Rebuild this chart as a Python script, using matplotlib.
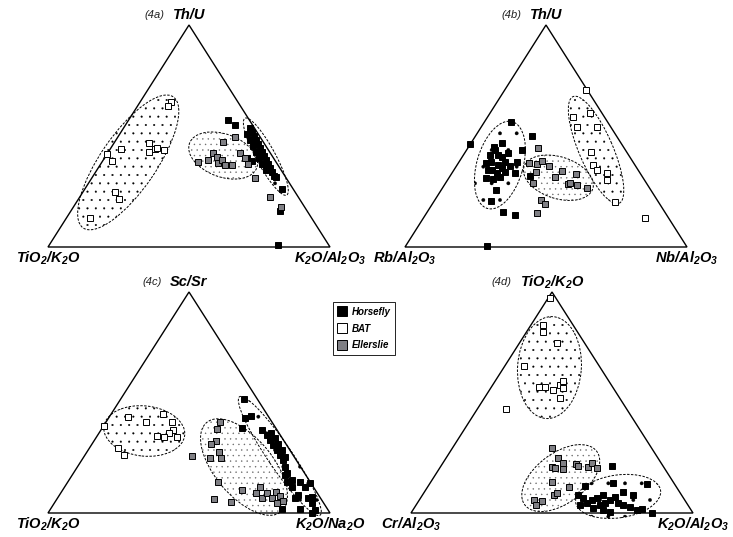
import numpy as np
import matplotlib
matplotlib.use("Agg")
import matplotlib.pyplot as plt
from matplotlib.patches import Ellipse, Polygon
from matplotlib.lines import Line2D

plt.rcParams["font.family"] = "Liberation Sans"
plt.rcParams["mathtext.fontset"] = "custom"
plt.rcParams["mathtext.rm"] = "Liberation Sans:italic:bold"
plt.rcParams["mathtext.it"] = "Liberation Sans:italic:bold"
plt.rcParams["mathtext.bf"] = "Liberation Sans:italic:bold"
plt.rcParams["hatch.linewidth"] = 0.25

# ternary compositions, (top %, right %); left = 100 - top - right
a_horsefly = [(57.2, 35.2), (55.0, 38.8), (53.6, 44.8), (51.8, 46.4), (50.0, 48.0), (48.2, 49.7),
              (46.4, 51.3), (44.6, 52.9), (42.8, 54.5), (41.0, 56.1), (39.2, 57.7), (37.4, 59.3),
              (35.6, 60.9), (33.8, 62.5), (32.0, 64.1), (50.9, 45.1), (48.2, 47.5), (45.5, 49.9),
              (42.8, 52.4), (40.1, 54.7), (37.4, 57.2), (34.7, 59.9), (40.1, 50.5), (38.7, 52.9),
              (31.5, 65.1), (26.1, 69.9), (16.2, 74.2), (0.9, 81.1)]
a_ellerslie = [(49.5, 41.5), (47.3, 38.5), (42.3, 37.3), (40.5, 39.6), (39.2, 37.1), (37.8, 41.4),
               (39.2, 42.1), (36.9, 44.3), (36.9, 46.7), (38.3, 34.0), (42.3, 46.9), (40.1, 49.8),
               (37.4, 52.2), (31.1, 57.8), (22.5, 67.4), (18.0, 73.6)]
a_bat = [(65.3, 10.9), (63.5, 10.8), (44.1, 3.8), (41.9, 0.0), (38.7, 3.3), (46.8, 12.4),
         (42.8, 14.4), (44.1, 15.8), (44.6, 16.4), (43.7, 19.2), (24.8, 11.4), (21.6, 14.4),
         (13.1, 8.4)]

b_horsefly = [(56.3, 9.4), (46.4, 0.0), (50.0, 20.0), (43.7, 19.6), (46.8, 11.0), (43.7, 10.0),
              (41.4, 9.4), (41.4, 12.3), (42.3, 15.3), (38.3, 11.3), (36.9, 14.5), (38.3, 16.3),
              (34.7, 12.0), (33.3, 15.9), (31.1, 13.1), (30.6, 15.9), (31.5, 17.9), (33.8, 18.6),
              (33.3, 22.3), (40.5, 14.1), (38.3, 20.5), (32.0, 28.3), (25.7, 19.4), (20.7, 20.1),
              (15.8, 26.9), (14.4, 31.8), (0.5, 28.9), (45.0, 9.1), (37.8, 9.8), (36.5, 18.9),
              (34.7, 13.5), (35.6, 16.6)]
b_ellerslie = [(44.6, 24.9), (37.8, 25.1), (37.4, 28.1), (38.7, 29.2), (33.8, 29.6), (36.5, 32.9),
               (28.8, 31.0), (34.2, 38.6), (31.5, 37.4), (28.4, 43.6), (32.9, 44.2), (28.8, 44.1),
               (27.9, 47.0), (26.6, 51.2), (21.2, 37.6), (19.4, 39.9), (15.3, 39.1)]
b_bat = [(70.7, 28.8), (58.6, 30.3), (54.1, 34.0), (60.4, 35.4), (54.1, 41.1), (42.8, 44.6),
         (36.9, 48.2), (34.7, 50.8), (33.3, 54.9), (30.2, 56.5), (20.3, 64.4), (13.1, 78.6)]

c_horsefly = [(51.6, 43.7), (43.0, 48.4), (43.9, 50.0), (38.5, 49.6), (37.6, 57.1), (35.3, 60.1),
              (33.0, 62.2), (30.8, 64.4), (28.5, 66.9), (26.2, 69.2), (24.0, 71.3), (20.8, 73.6),
              (18.1, 75.8), (36.2, 61.0), (33.9, 63.5), (31.2, 66.0), (28.5, 68.7), (25.3, 71.3),
              (17.2, 75.4), (14.0, 77.8), (14.9, 79.0), (14.0, 82.4), (11.8, 80.6), (11.8, 85.2),
              (8.1, 84.6), (6.8, 88.8), (13.6, 86.1), (7.2, 90.0), (4.5, 91.3), (1.4, 94.0),
              (1.8, 88.5), (1.8, 82.1), (6.8, 84.2), (0.0, 93.6)]
c_ellerslie = [(41.2, 40.4), (38.0, 40.9), (32.6, 43.3), (31.2, 42.2), (27.6, 46.8), (24.9, 48.8),
               (24.9, 44.9), (25.8, 38.2), (14.0, 53.3), (6.3, 55.7), (5.0, 62.4), (10.4, 63.6),
               (9.0, 69.3), (11.8, 69.3), (6.8, 72.5), (9.0, 73.2), (6.8, 76.0), (9.5, 76.1),
               (7.7, 78.4), (5.4, 80.6), (4.5, 78.9)]
c_bat = [(39.4, 0.0), (43.4, 6.7), (41.2, 14.2), (44.8, 18.4), (41.2, 23.4), (37.6, 25.5),
         (36.2, 24.8), (34.8, 21.3), (34.4, 23.9), (34.4, 28.5), (29.4, 10.1), (26.2, 13.9)]

d_horsefly = [(21.3, 60.7), (12.2, 55.6), (13.6, 64.8), (13.1, 77.1), (8.1, 55.1), (6.8, 57.6),
              (4.5, 60.1), (5.9, 61.3), (6.8, 62.6), (3.6, 65.2), (4.5, 66.5), (5.9, 67.7),
              (7.2, 68.7), (4.5, 71.1), (3.6, 73.4), (2.7, 76.3), (1.4, 79.4), (1.8, 81.0),
              (0.0, 85.5), (1.4, 67.4), (2.3, 63.4), (0.5, 70.3), (3.6, 58.1), (8.1, 64.0),
              (9.5, 70.4), (8.1, 74.6)]
d_ellerslie = [(29.4, 35.3), (24.9, 39.6), (20.8, 39.6), (20.4, 40.9), (22.6, 42.6), (19.9, 43.9),
               (22.2, 47.4), (21.3, 48.5), (20.8, 52.4), (22.6, 52.9), (20.4, 55.8), (14.0, 43.0),
               (11.8, 50.1), (8.1, 46.6), (9.0, 47.3), (5.9, 40.6), (5.4, 43.8), (3.6, 42.5)]
d_bat = [(97.3, 0.7), (85.1, 4.3), (81.9, 5.8), (76.9, 13.3), (66.5, 6.8), (57.0, 16.9),
         (57.0, 19.0), (55.7, 22.6), (57.9, 23.8), (59.7, 24.0), (56.6, 25.6), (52.0, 26.8),
         (47.1, 10.2)]

# group envelopes: centre (top %, right %), semi-axes (% of side), angle (deg)
a_fields = {"BAT": (38.1, 9.4, 28.2, 9.9, 55.5), "Ellerslie": (41.2, 41.5, 12.7, 7.6, -20),
            "Horsefly": (40.7, 56.9, 15.5, 3.4, -61.5)}
b_fields = {"Horsefly": (36.9, 15.2, 16.0, 8.2, 74), "Ellerslie": (31.2, 38.8, 12.8, 7.4, -17.7),
            "BAT": (43.7, 45.9, 20.6, 6.0, 113.3)}
c_fields = {"BAT": (37.1, 15.6, 14.4, 8.9, -6), "Horsefly": (25.8, 69.3, 25.4, 4.3, -55.8),
            "Ellerslie": (20.8, 59.1, 20.6, 10.3, -50)}
d_fields = {"BAT": (65.8, 16.2, 18.1, 11.3, 86), "Ellerslie": (15.8, 45.2, 15.9, 8.9, 36.6),
            "Horsefly": (7.5, 69.7, 15.2, 7.6, 8)}

panels = [
    ("(4a)", "Th/U", r"TiO$_2$/K$_2$O", r"K$_2$O/Al$_2$O$_3$", a_horsefly, a_bat, a_ellerslie, a_fields),
    ("(4b)", "Th/U", r"Rb/Al$_2$O$_3$", r"Nb/Al$_2$O$_3$", b_horsefly, b_bat, b_ellerslie, b_fields),
    ("(4c)", "Sc/Sr", r"TiO$_2$/K$_2$O", r"K$_2$O/Na$_2$O", c_horsefly, c_bat, c_ellerslie, c_fields),
    ("(4d)", r"TiO$_2$/K$_2$O", r"Cr/Al$_2$O$_3$", r"K$_2$O/Al$_2$O$_3$", d_horsefly, d_bat, d_ellerslie, d_fields),
]

W, H = 733, 537
# axes boxes in pixels: left, base y, triangle height
boxes = [(48, 247, 222), (405, 247, 222), (48, 513, 221), (411, 513, 221)]
side = 282

colors = {"Horsefly": "black", "BAT": "white", "Ellerslie": "#7f7f84"}
stipple = {"Horsefly": ".", "BAT": "..", "Ellerslie": "..."}
stipple_color = {"Horsefly": "black", "BAT": "black", "Ellerslie": "#666666"}
lab_font = dict(fontsize=10.5, fontweight="bold", fontstyle="italic")

fig = plt.figure(figsize=(W / 100, H / 100), dpi=100)


def to_xy(pts, h):
    pts = np.asarray(pts, dtype=float) / 100
    top, right = pts[:, 0], pts[:, 1]
    return right + top / 2, top * h


for (tag, top_lab, left_lab, right_lab, hf, bat, ell, fields), (lx, by, th) in zip(panels, boxes):
    h = th / side
    ax = fig.add_axes([lx / W, (H - by) / H, side / W, th / H])
    ax.set_xlim(0, 1)
    ax.set_ylim(0, h)
    ax.axis("off")

    ax.add_patch(Polygon([(0, 0), (1, 0), (0.5, h)], closed=True, fill=False,
                         edgecolor="black", linewidth=1.0, clip_on=False, zorder=2))

    for name, (t, r, sa, sb, ang) in fields.items():
        cx, cy = to_xy([(t, r)], h)
        ax.add_patch(Ellipse((cx[0], cy[0]), 2 * sa / 100, 2 * sb / 100, angle=ang,
                             facecolor="none", edgecolor=stipple_color[name], hatch=stipple[name],
                             linewidth=0, clip_on=False, zorder=1))
        ax.add_patch(Ellipse((cx[0], cy[0]), 2 * sa / 100, 2 * sb / 100, angle=ang,
                             facecolor="none", edgecolor="black", linewidth=0.7,
                             linestyle=(0, (2.5, 1.5)), clip_on=False, zorder=1.5))

    for name, pts in (("Horsefly", hf), ("Ellerslie", ell), ("BAT", bat)):
        x, y = to_xy(pts, h)
        ax.plot(x, y, "s", ms=5, mfc=colors[name], mec="black", mew=0.7,
                clip_on=False, zorder=3)

    ax.annotate(left_lab, (0, 0), xytext=(0, -8), textcoords="offset points",
                ha="center", va="center", **lab_font)
    ax.annotate(right_lab, (1, 0), xytext=(0, -8), textcoords="offset points",
                ha="center", va="center", **lab_font)
    title = ax.annotate(top_lab, (0.5, h), xytext=(0, 7), textcoords="offset points",
                        ha="center", va="center", **lab_font)
    ax.annotate(tag, xy=(0, 0.5), xycoords=title, xytext=(-6, 0), textcoords="offset points",
                ha="right", va="center", fontsize=8, fontstyle="italic", color="#222222")

handles = [Line2D([], [], ls="none", marker="s", ms=6.5, mfc=colors[n], mec="black", mew=0.7)
           for n in ("Horsefly", "BAT", "Ellerslie")]
leg = fig.legend(handles, ["Horsefly", "BAT", "Ellerslie"], loc="upper left",
                 bbox_to_anchor=(333 / W, 1 - 302 / H), frameon=True, fancybox=False,
                 edgecolor="black", framealpha=1, borderaxespad=0, borderpad=0.5,
                 handlelength=0.8, handletextpad=0.6, labelspacing=0.7,
                 prop=dict(family="Liberation Sans", weight="bold", style="italic", size=7))
leg.get_frame().set_linewidth(0.6)

fig.savefig("out.png", dpi=100)
